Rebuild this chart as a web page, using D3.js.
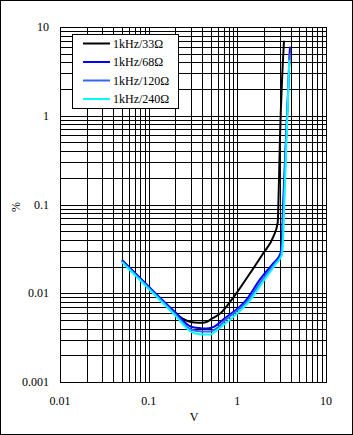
<!DOCTYPE html>
<html><head><meta charset="utf-8">
<script src="https://cdn.jsdelivr.net/npm/d3@7"></script>
<style>body{margin:0;background:#fff}svg{display:block}text{font-family:"Liberation Serif","Times New Roman",serif;font-size:12px;fill:#000}</style>
</head><body>
<script>
const xTicks = [0.01, 0.1, 1, 10];
const yTicks = [0.001, 0.01, 0.1, 1, 10];
const seriesNames = ["1kHz/33Ω", "1kHz/68Ω", "1kHz/120Ω", "1kHz/240Ω"];
const seriesColors = ["#000000", "#0000ff", "#3366ff", "#00ffff"];

const v33  = [0.05, 0.1, 0.2, 0.22, 0.27, 0.33, 0.4, 0.46, 0.52, 0.64, 0.86, 1.39, 1.96, 2.55, 2.85, 2.95, 3.03, 3.17, 3.36];
const p33  = [0.0234, 0.0118, 0.0059, 0.00548, 0.0049, 0.00468, 0.00465, 0.0048, 0.0052, 0.0059, 0.0084, 0.0168, 0.0282, 0.0434, 0.062, 0.19, 0.58, 2.12, 7.0];
const v68  = [0.05, 0.1, 0.2, 0.3, 0.38, 0.45, 0.55, 0.7, 1.27, 1.8, 2.55, 3.03, 3.15, 3.3, 3.49, 3.7, 3.92];
const p68  = [0.0236, 0.0119, 0.0061, 0.0042, 0.00405, 0.004, 0.0042, 0.0051, 0.0085, 0.0143, 0.0219, 0.0272, 0.034, 0.112, 0.41, 1.5, 6.0];
const v120 = [0.05, 0.1, 0.2, 0.3, 0.4, 0.48, 0.6, 0.72, 1.33, 1.9, 2.65, 3.1, 3.2, 3.35, 3.52, 3.71, 3.88];
const p120 = [0.023, 0.0116, 0.0058, 0.0039, 0.0037, 0.0037, 0.0041, 0.0049, 0.0084, 0.0141, 0.0217, 0.027, 0.034, 0.112, 0.41, 1.5, 5.0];
const v240 = [0.05, 0.1, 0.2, 0.3, 0.38, 0.49, 0.6, 0.76, 1.39, 2.0, 2.73, 3.17, 3.25, 3.4, 3.55, 3.72, 3.85];
const p240 = [0.0224, 0.0112, 0.0056, 0.0037, 0.00345, 0.00342, 0.0039, 0.0047, 0.0083, 0.014, 0.0215, 0.0268, 0.034, 0.112, 0.41, 1.5, 4.25];
const seriesV = [v33, v68, v120, v240];
const seriesP = [p33, p68, p120, p240];

const W = 353, H = 435;
const L = 60, R = 326, T = 27, B = 382;
const svg = d3.select("body").append("svg").attr("width", W).attr("height", H);
svg.append("rect").attr("x", 0.5).attr("y", 0.5).attr("width", W - 1).attr("height", H - 1)
  .attr("fill", "#fff").attr("stroke", "#000").attr("stroke-width", 1);

const x = d3.scaleLog().domain([0.01, 10]).range([L, R]);
const y = d3.scaleLog().domain([0.001, 10]).range([B, T]);

const g = svg.append("g");
const xg = [], yg = [];
for (let d = -2; d < 1; d++) for (let m = 1; m <= 9; m++) xg.push(m * Math.pow(10, d));
xg.push(10);
for (let d = -3; d < 1; d++) for (let m = 1; m <= 9; m++) yg.push(m * Math.pow(10, d));
yg.push(10);
g.selectAll(".xg").data(xg).enter().append("line")
  .attr("x1", d => Math.round(x(d)) + 0.5).attr("x2", d => Math.round(x(d)) + 0.5)
  .attr("y1", T).attr("y2", B + 1).attr("stroke", "#000").attr("shape-rendering", "crispEdges");
g.selectAll(".yg").data(yg).enter().append("line")
  .attr("y1", d => Math.round(y(d)) + 0.5).attr("y2", d => Math.round(y(d)) + 0.5)
  .attr("x1", L).attr("x2", R + 1).attr("stroke", "#000").attr("shape-rendering", "crispEdges");

const fmt = d => String(d);
svg.selectAll(".yl").data(yTicks).enter().append("text")
  .attr("x", 49).attr("y", d => y(d) + 4).attr("text-anchor", "end").text(fmt);
svg.selectAll(".xl").data(xTicks).enter().append("text")
  .attr("x", d => x(d)).attr("y", 405).attr("text-anchor", "middle").text(fmt);
svg.append("text").attr("x", 194).attr("y", 421).attr("text-anchor", "middle").text("V");
svg.append("text").attr("transform", "translate(20,207) rotate(-90)").attr("text-anchor", "middle").text("%");

const line = d3.line().x(d => x(d[0])).y(d => y(d[1])).curve(d3.curveMonotoneX);
seriesV.forEach((vs, i) => {
  const pts = vs.map((v, j) => [v, seriesP[i][j]]);
  svg.append("path").attr("d", line(pts)).attr("fill", "none")
    .attr("stroke", seriesColors[i]).attr("stroke-width", 2);
});

const lg = svg.append("g");
lg.append("rect").attr("x", 72.5).attr("y", 34.5).attr("width", 106).attr("height", 74)
  .attr("fill", "#fff").attr("stroke", "#000").attr("shape-rendering", "crispEdges");
seriesNames.forEach((n, i) => {
  const yy = 43.5 + i * 18.5;
  lg.append("line").attr("x1", 83).attr("x2", 110).attr("y1", yy).attr("y2", yy)
    .attr("stroke", seriesColors[i]).attr("stroke-width", 2);
  lg.append("text").attr("x", 113).attr("y", yy + 4).text(n);
});
</script>
</body></html>
